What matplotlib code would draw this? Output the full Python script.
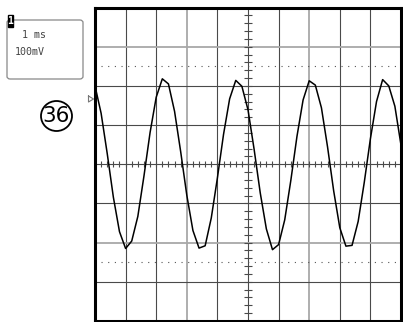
import numpy as np
import matplotlib
matplotlib.use("Agg")
import matplotlib.pyplot as plt
from matplotlib.patches import FancyBboxPatch, Ellipse, Rectangle
from matplotlib.lines import Line2D

timebase_ms_per_div = 1.0
volts_mv_per_div = 100.0
sample_step_ms = 0.2
trace_mv = [200, 130, 27, -84, -172, -215, -196, -133, -30, 81,
            171, 218, 205, 135, 32, -79, -169, -214, -208, -137,
            -35, 76, 167, 214, 199, 139, 38, -73, -165, -218,
            -205, -142, -41, 71, 164, 213, 202, 144, 44, -68,
            -162, -209, -207, -146, -46, 65, 160, 216, 200, 148, 49]
time_ms = np.arange(len(trace_mv)) * sample_step_ms
cursor_mv = [250, -250]
label_time = "1 ms"
label_volt = "100mV"
channel_label = "1"
figure_number = "36"

W, H = 403, 322
fig = plt.figure(figsize=(W / 100, H / 100), dpi=100)
fig.patch.set_facecolor("white")

def fx(px):
    return px / W

def fy(py):
    return 1 - py / H

L, R, T, B = 95, 401, 7.5, 321
ax = fig.add_axes([fx(L), fy(B), fx(R) - fx(L), fy(T) - fy(B)])
ax.set_xlim(0, 10)
ax.set_ylim(-4, 4)
ax.set_xticks([])
ax.set_yticks([])
for s in ax.spines.values():
    s.set_linewidth(2.2)
    s.set_color("black")

dark = "#4a4a4a"
light = "#a8a8a8"
for gx in range(1, 10):
    if gx in (3, 7):
        ax.axvline(gx, color=light, lw=1.3, zorder=1)
    else:
        ax.axvline(gx, color=dark, lw=0.8, zorder=1)
for gy in range(-3, 4):
    if gy in (3, -2):
        ax.axhline(gy, color=light, lw=1.3, zorder=1)
    else:
        ax.axhline(gy, color=dark, lw=0.8, zorder=1)

# center axis minor ticks
minor = np.arange(0.2, 10, 0.2)
ax.plot(minor, np.zeros_like(minor), ls="none", marker="|", ms=5, mew=0.8, color=dark, zorder=2)
minor_y = np.arange(-3.8, 4, 0.2)
ax.plot(np.full_like(minor_y, 5.0), minor_y, ls="none", marker="_", ms=6, mew=0.8, color=dark, zorder=2)

# cursors
for c in cursor_mv:
    ax.plot([0.2, 9.9], [c / volts_mv_per_div] * 2, color="#555555", lw=0.8,
            ls=(0, (1, 5)), zorder=2)

# trace
ax.plot(time_ms / timebase_ms_per_div, np.array(trace_mv) / volts_mv_per_div,
        color="black", lw=1.1, zorder=3, clip_on=True)

# ground marker triangle at left
fig.add_artist(Line2D([fx(88.5), fx(93.5), fx(88.5), fx(88.5)],
                      [fy(96), fy(99), fy(102), fy(96)], color="#777777", lw=0.8))

# info box
box = FancyBboxPatch((fx(7), fy(79)), fx(83) - fx(7), fy(20) - fy(79),
                     boxstyle="round,pad=0,rounding_size=0.008",
                     transform=fig.transFigure, fill=False, edgecolor="#888888", lw=0.9)
fig.add_artist(box)
fig.add_artist(Rectangle((fx(8), fy(27)), fx(5), fy(15) - fy(27),
                         transform=fig.transFigure, facecolor="black", edgecolor="black"))
fig.text(fx(10.5), fy(21), channel_label, color="white", fontsize=7, fontweight="bold",
         ha="center", va="center", family="DejaVu Sans Mono")
fig.text(fx(22), fy(35), label_time, color="#444444", fontsize=7.2, ha="left", va="center",
         family="DejaVu Sans Mono")
fig.text(fx(15), fy(52), label_volt, color="#444444", fontsize=7.2, ha="left", va="center",
         family="DejaVu Sans Mono")

# circled number
fig.add_artist(Ellipse((fx(56.5), fy(116)), fx(31), fy(0) - fy(30), transform=fig.transFigure,
                       fill=False, edgecolor="black", lw=1.3))
fig.text(fx(56.5), fy(116.5), figure_number, fontsize=15.5, ha="center", va="center",
         family="DejaVu Sans", color="black")

fig.savefig("out.png", dpi=100, facecolor="white")
